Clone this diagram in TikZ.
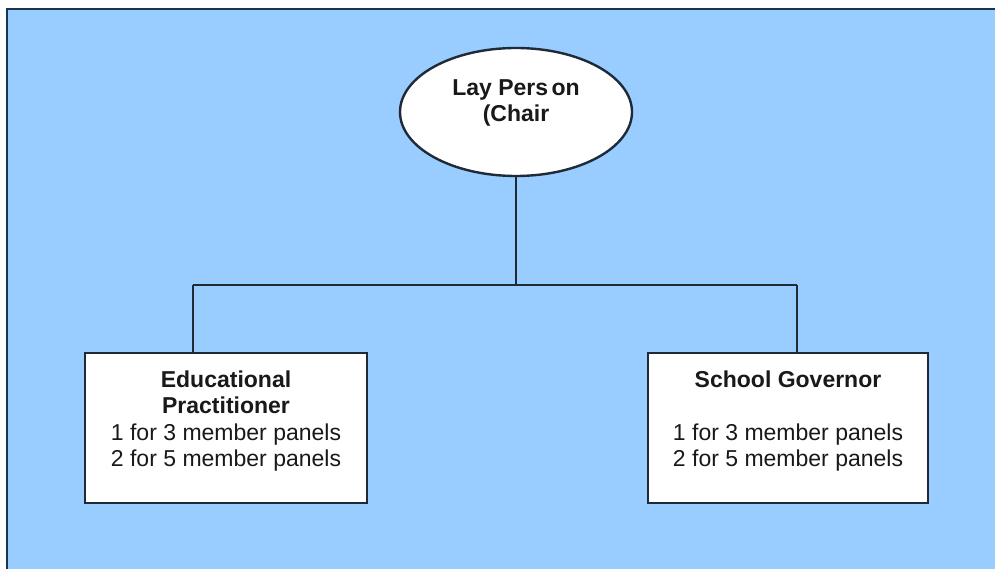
\documentclass[tikz,border=0pt]{standalone}
\usepackage{fontspec}
\setmainfont{Liberation Sans}
\usetikzlibrary{shapes.geometric}
\definecolor{bgblue}{HTML}{99CCFF}
\definecolor{framenavy}{HTML}{1C3450}
\definecolor{linedark}{HTML}{1E2A38}
\begin{document}
\begin{tikzpicture}[x=1pt,y=-1pt,
  shapebox/.style={draw=linedark, line width=2.4pt, fill=white, inner sep=0pt},
  conn/.style={draw=linedark, line width=1.8pt},
  txt/.style={align=center, inner sep=0pt, font=\fontsize{23}{26.5}\selectfont, text=black!90}]
\useasboundingbox (0,0) rectangle (995,569);
\fill[white] (0,0) rectangle (995,569);
\fill[bgblue] (7,9) rectangle (995,569);
\draw[framenavy, line width=2pt] (7,569) -- (7,9) -- (995,9);
% nodes
\node[shapebox, ellipse, minimum width=232, minimum height=128] (lay) at (516,112) {};
\node[txt] (laytext) at (516,103) {\textbf{Lay Pers\hspace{0.15em}on}\\\textbf{(Chair}};
\node[shapebox, minimum width=282, minimum height=150] (edu) at (226,428) {};
\node[txt] (edutext) at (226,421) {\textbf{Educational}\\\textbf{Practitioner}\\1 for 3 member panels\\2 for 5 member panels};
\node[shapebox, minimum width=280, minimum height=150] (gov) at (788,428) {};
\node[txt] (govtext) at (788,421) {\textbf{School Governor}\\[0pt]\strut\\1 for 3 member panels\\2 for 5 member panels};
% connectors
\coordinate (jt) at (516,285);
\coordinate (jl) at (193,285);
\coordinate (jr) at (797,285);
\draw[conn] (lay.south) -- (jt);
\draw[conn] (jl) -- (jr);
\draw[conn] (jl) -- (jl |- edu.north);
\draw[conn] (jr) -- (jr |- gov.north);
\end{tikzpicture}
\end{document}
